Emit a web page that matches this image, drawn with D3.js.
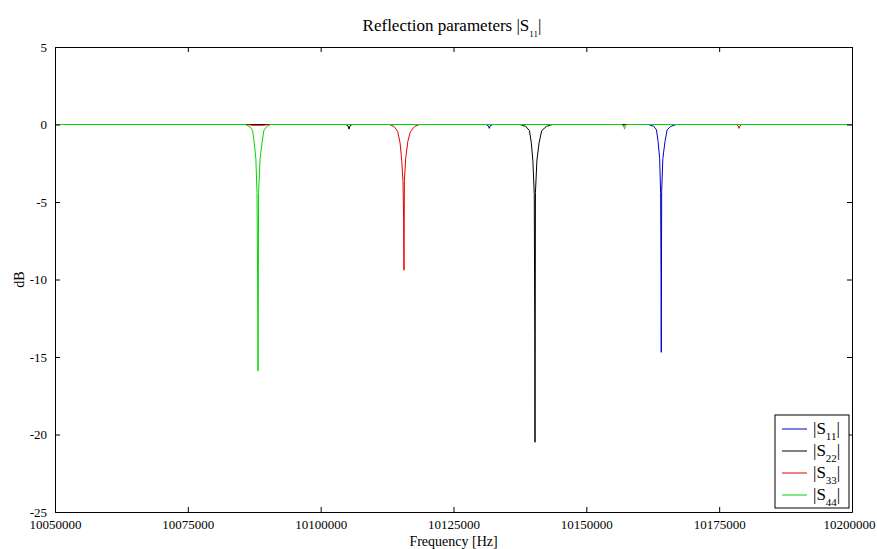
<!DOCTYPE html>
<html>
<head>
<meta charset="utf-8">
<script src="https://cdn.jsdelivr.net/npm/d3@7"></script>
<style>
  body { margin: 0; background: #fff; }
  text { font-family: "Liberation Serif", "DejaVu Serif", serif; fill: #000; }
</style>
</head>
<body>
<script>
// series names, drawn in this order (last on top)
var seriesNames = ["S11", "S22", "S33", "S44"];
var seriesColors = ["#0000c8", "#000000", "#e80000", "#00d800"];

// x / y ticks
var xTicks = [10050000, 10075000, 10100000, 10125000, 10150000, 10175000, 10200000];
var yTicks = [5, 0, -5, -10, -15, -20, -25];

// [frequency Hz, dB]
var s11 = [
  [10050000, 0], [10131100, 0], [10131550, -0.08], [10131740, -0.25], [10131930, -0.08], [10132400, 0],
  [10161700, 0], [10162700, -0.12], [10163200, -0.35], [10163500, -1.1], [10163800, -2.2], [10163980, -4.4],
  [10164060, -9.8], [10164100, -14.7], [10164180, -4.3], [10164400, -2.2], [10164800, -1.1],
  [10165200, -0.35], [10165900, -0.12], [10166900, 0], [10200000, 0]
];
var s22 = [
  [10050000, 0], [10104750, 0], [10105150, -0.1], [10105330, -0.3], [10105500, -0.1], [10105900, 0],
  [10137500, 0], [10138600, -0.12], [10139300, -0.4], [10139650, -1.2], [10139950, -2.4], [10140200, -4.5],
  [10140300, -13.6], [10140340, -20.5], [10140420, -4.4], [10140700, -2.3], [10141100, -1.2],
  [10141600, -0.4], [10142500, -0.12], [10143600, 0], [10200000, 0]
];
var s33 = [
  [10050000, 0], [10086300, 0], [10087200, -0.05], [10089200, -0.05], [10090200, 0],
  [10112900, 0], [10113800, -0.12], [10114500, -0.45], [10114950, -1.2], [10115250, -2.3], [10115500, -3.7],
  [10115620, -6.2], [10115680, -9.4], [10115760, -3.6], [10116000, -2.2], [10116400, -1.1],
  [10116900, -0.45], [10117700, -0.12], [10118600, 0],
  [10156700, 0], [10157000, -0.1], [10157300, 0],
  [10178300, 0], [10178600, -0.1], [10178730, -0.25], [10178900, -0.1], [10179200, 0], [10200000, 0]
];
var s44 = [
  [10050000, 0], [10085800, 0], [10086700, -0.15], [10087200, -0.4], [10087500, -1.2], [10087800, -2.2],
  [10088020, -4.4], [10088150, -11], [10088210, -15.9], [10088320, -4.4], [10088600, -2.2],
  [10088950, -1.2], [10089300, -0.4], [10089800, -0.15], [10090600, 0],
  [10156750, 0], [10157050, -0.1], [10157180, -0.3], [10157350, -0.1], [10157650, 0], [10200000, 0]
];
var allSeries = [s11, s22, s33, s44];

var svg = d3.select("body").append("svg")
    .attr("width", 877)
    .attr("height", 549);

var plotLeft = 55, plotRight = 852, plotTop = 47, plotBottom = 512;

var x = d3.scaleLinear().domain([10050000, 10200000]).range([plotLeft, plotRight]);
var y = d3.scaleLinear().domain([-25, 5]).range([plotBottom, plotTop]);

var line = d3.line()
    .x(function(d) { return x(d[0]); })
    .y(function(d) { return y(d[1]); });

// clip for the data
svg.append("clipPath").attr("id", "plotclip")
  .append("rect")
    .attr("x", plotLeft).attr("y", plotTop)
    .attr("width", plotRight - plotLeft).attr("height", plotBottom - plotTop);

var plot = svg.append("g").attr("clip-path", "url(#plotclip)");

allSeries.forEach(function(s, i) {
    plot.append("path")
        .datum(s)
        .attr("d", line)
        .attr("fill", "none")
        .attr("stroke", seriesColors[i])
        .attr("stroke-width", 1);
});

// plain hyphen minus like the original
function fmt(d) { return String(d); }

// axes with inward ticks on all four sides
var tickLen = 5;
var xAxisG = svg.append("g")
    .attr("transform", "translate(0," + plotBottom + ")")
    .call(d3.axisBottom(x).tickValues(xTicks).tickSizeInner(-tickLen).tickSizeOuter(0).tickPadding(8)
        .tickFormat(fmt));
svg.append("g")
    .attr("transform", "translate(0," + plotTop + ")")
    .call(d3.axisTop(x).tickValues(xTicks).tickSizeInner(-tickLen).tickSizeOuter(0).tickFormat(""));
svg.append("g")
    .attr("transform", "translate(" + plotLeft + ",0)")
    .call(d3.axisLeft(y).tickValues(yTicks).tickSizeInner(-tickLen).tickSizeOuter(0).tickPadding(8)
        .tickFormat(fmt));
svg.append("g")
    .attr("transform", "translate(" + plotRight + ",0)")
    .call(d3.axisRight(y).tickValues(yTicks).tickSizeInner(-tickLen).tickSizeOuter(0).tickFormat(""));

svg.selectAll(".tick text")
    .style("font-family", "Liberation Serif")
    .style("font-size", "13px")
    .attr("fill", "#000");
svg.selectAll(".domain, .tick line").attr("stroke", "#000");

// keep the last x label inside the page
xAxisG.selectAll(".tick:last-of-type text").attr("dx", -3);

// title
var title = svg.append("text")
    .attr("x", 452)
    .attr("y", 31)
    .attr("text-anchor", "middle")
    .style("font-size", "17px");
title.append("tspan").text("Reflection parameters |S");
title.append("tspan").attr("dy", 6).style("font-size", "9px").text("11");
title.append("tspan").attr("dy", -6).text("|");

// axis labels
svg.append("text")
    .attr("x", (plotLeft + plotRight) / 2)
    .attr("y", 546)
    .attr("text-anchor", "middle")
    .style("font-size", "14px")
    .text("Frequency [Hz]");

svg.append("text")
    .attr("transform", "translate(24," + y(-10) + ") rotate(-90)")
    .attr("text-anchor", "middle")
    .style("font-size", "14px")
    .text("dB");

// legend
var legend = svg.append("g").attr("transform", "translate(775,415)");
legend.append("rect")
    .attr("width", 74)
    .attr("height", 93)
    .attr("fill", "#fff")
    .attr("stroke", "#000");

seriesNames.forEach(function(name, i) {
    var ly = 14 + i * 22;
    legend.append("line")
        .attr("x1", 7).attr("x2", 32)
        .attr("y1", ly).attr("y2", ly)
        .attr("stroke", seriesColors[i]);
    var t = legend.append("text")
        .attr("x", 38)
        .attr("y", ly + 5)
        .style("font-size", "17px");
    t.append("tspan").text("|" + name.charAt(0));
    t.append("tspan").attr("dy", 6).style("font-size", "11px").text(name.slice(1));
    t.append("tspan").attr("dy", -6).text("|");
});
</script>
</body>
</html>
